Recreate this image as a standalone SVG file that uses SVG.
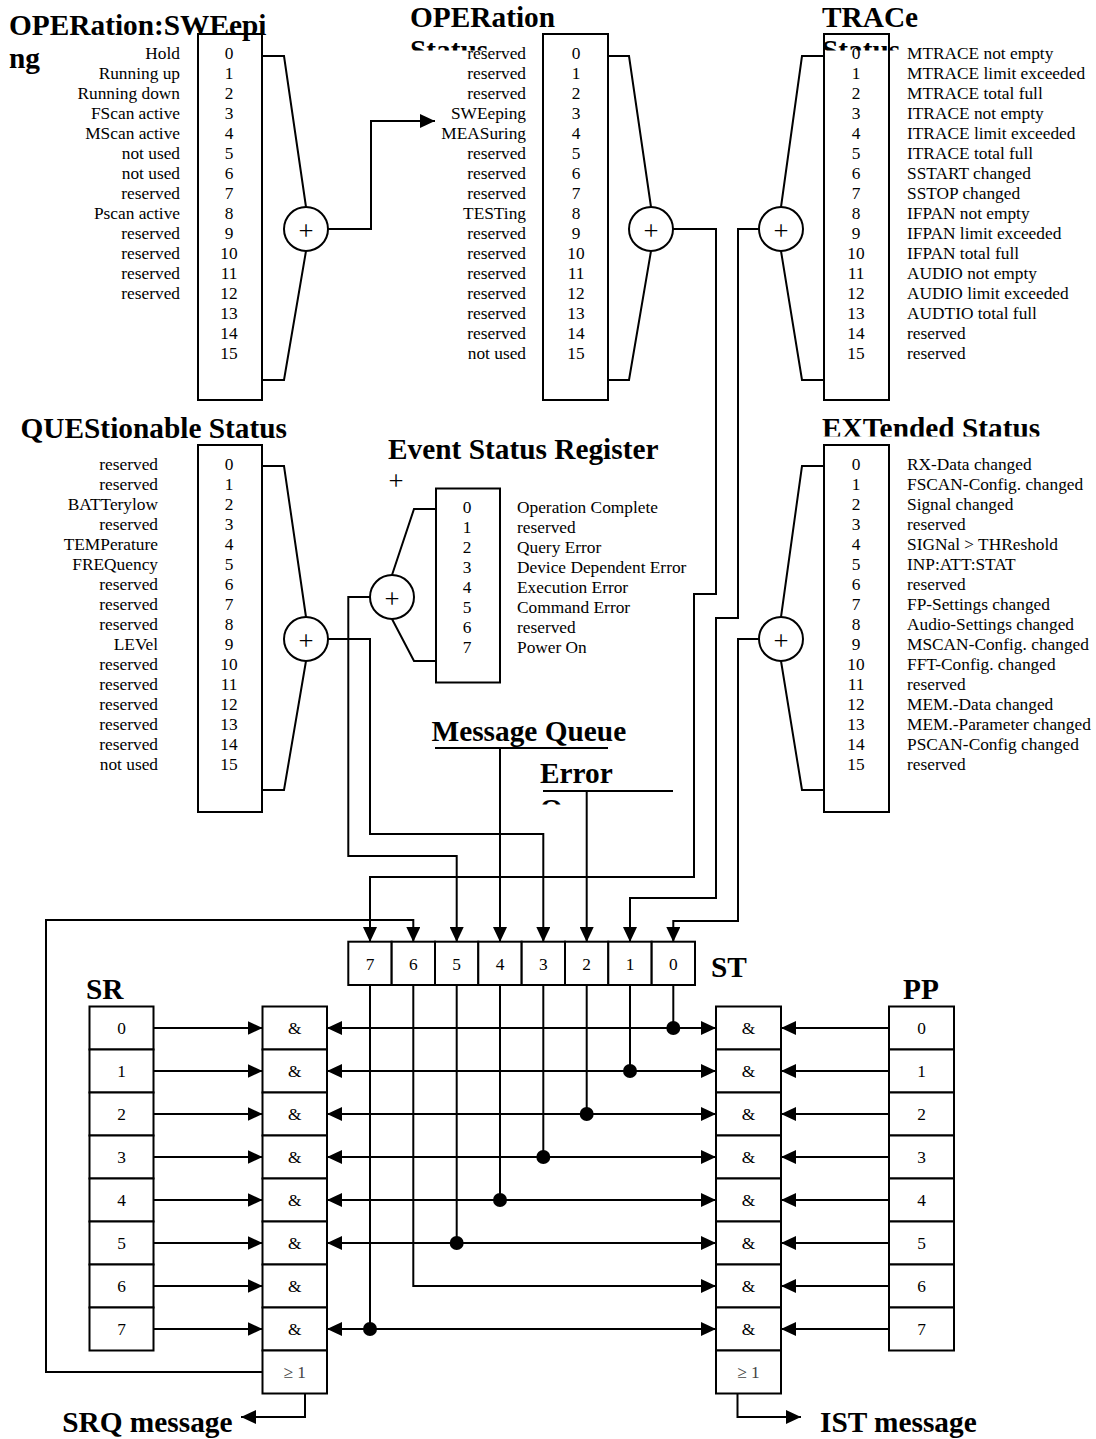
<svg xmlns="http://www.w3.org/2000/svg" width="1096" height="1439" viewBox="0 0 1096 1439">
<style>
.t{font-family:"Liberation Serif","Times New Roman",serif;font-size:17.33px;fill:#000}
.h{font-family:"Liberation Serif","Times New Roman",serif;font-size:29.33px;font-weight:bold;fill:#000}
.p{font-family:"Liberation Serif","Times New Roman",serif;font-size:26.67px;fill:#000;text-anchor:middle}
.r{text-anchor:end}
.m{text-anchor:middle}
.box{fill:#fff;stroke:#000;stroke-width:2}
.ln{fill:none;stroke:#000;stroke-width:2}
.ar{marker-end:url(#ah)}
.ar2{marker-start:url(#ah);marker-end:url(#ah)}
.dot{fill:#000}
.ge{fill:#444}
</style>
<defs>
<marker id="ah" markerUnits="userSpaceOnUse" markerWidth="15" markerHeight="14" refX="15" refY="7" orient="auto-start-reverse" viewBox="0 0 15 14"><path d="M0,0 L15,7 L0,14 z" fill="#000"/></marker>
<clipPath id="clipOper"><rect x="380" y="0" width="200" height="50.5"/></clipPath>
<clipPath id="clipTrace"><rect x="800" y="0" width="200" height="50.5"/></clipPath>
<clipPath id="clipErr"><rect x="520" y="740" width="170" height="64.5"/></clipPath>
<clipPath id="clipExt"><rect x="800" y="400" width="296" height="36.5"/></clipPath>
</defs>
<rect width="1096" height="1439" fill="#fff"/>

<g id="connectors">
<polyline class="ln" points="262,56 284,56 306,207"/>
<polyline class="ln" points="306,251 284,380 262,380"/>
<polyline class="ln" points="608,56 629,56 651,207"/>
<polyline class="ln" points="651,251 629,380 608,380"/>
<polyline class="ln" points="824,56 802,56 781,207"/>
<polyline class="ln" points="781,251 802,380 824,380"/>
<polyline class="ln" points="262,466 284,466 306,617"/>
<polyline class="ln" points="306,661 284,790 262,790"/>
<polyline class="ln" points="824,466 802,466 781,617"/>
<polyline class="ln" points="781,661 802,790 824,790"/>
<polyline class="ln" points="436,509 414,509 392,575"/>
<polyline class="ln" points="392,619 414,661 436,661"/>
<polyline class="ln ar" points="328,229 371,229 371,121 435,121"/>
<polyline class="ln ar" points="673,229 716,229 716,594 694,594 694,877 370,877 370,942"/>
<polyline class="ln ar" points="759,229 738,229 738,618 716,618 716,898 630,898 630,942"/>
<polyline class="ln ar" points="759,639 738,639 738,921 673.3,921 673.3,942"/>
<polyline class="ln ar" points="328,639 370,639 370,834 543.3,834 543.3,942"/>
<polyline class="ln ar" points="370,597 348.3,597 348.3,856 456.7,856 456.7,942"/>
<polyline class="ln ar" points="500,748 500,942"/>
<polyline class="ln ar" points="586.7,791 586.7,942"/>
<polyline class="ln ar" points="262.5,1372 46,1372 46,920 413.3,920 413.3,942"/>
<line class="ln" x1="673.3" y1="985" x2="673.3" y2="1028"/>
<line class="ln" x1="630" y1="985" x2="630" y2="1071"/>
<line class="ln" x1="586.7" y1="985" x2="586.7" y2="1114"/>
<line class="ln" x1="543.3" y1="985" x2="543.3" y2="1157"/>
<line class="ln" x1="500" y1="985" x2="500" y2="1200"/>
<line class="ln" x1="456.7" y1="985" x2="456.7" y2="1243"/>
<polyline class="ln ar" points="413.3,985 413.3,1286 716,1286"/>
<line class="ln" x1="370" y1="985" x2="370" y2="1329"/>
<line class="ln ar2" x1="327" y1="1028" x2="716" y2="1028"/>
<line class="ln ar2" x1="327" y1="1071" x2="716" y2="1071"/>
<line class="ln ar2" x1="327" y1="1114" x2="716" y2="1114"/>
<line class="ln ar2" x1="327" y1="1157" x2="716" y2="1157"/>
<line class="ln ar2" x1="327" y1="1200" x2="716" y2="1200"/>
<line class="ln ar2" x1="327" y1="1243" x2="716" y2="1243"/>
<line class="ln ar2" x1="327" y1="1329" x2="716" y2="1329"/>
<circle class="dot" cx="673.3" cy="1028" r="7"/>
<circle class="dot" cx="630" cy="1071" r="7"/>
<circle class="dot" cx="586.7" cy="1114" r="7"/>
<circle class="dot" cx="543.3" cy="1157" r="7"/>
<circle class="dot" cx="500" cy="1200" r="7"/>
<circle class="dot" cx="456.7" cy="1243" r="7"/>
<circle class="dot" cx="370" cy="1329" r="7"/>
<line class="ln ar" x1="153.5" y1="1028" x2="262.5" y2="1028"/>
<line class="ln ar" x1="153.5" y1="1071" x2="262.5" y2="1071"/>
<line class="ln ar" x1="153.5" y1="1114" x2="262.5" y2="1114"/>
<line class="ln ar" x1="153.5" y1="1157" x2="262.5" y2="1157"/>
<line class="ln ar" x1="153.5" y1="1200" x2="262.5" y2="1200"/>
<line class="ln ar" x1="153.5" y1="1243" x2="262.5" y2="1243"/>
<line class="ln ar" x1="153.5" y1="1286" x2="262.5" y2="1286"/>
<line class="ln ar" x1="153.5" y1="1329" x2="262.5" y2="1329"/>
<line class="ln ar" x1="889" y1="1028" x2="781" y2="1028"/>
<line class="ln ar" x1="889" y1="1071" x2="781" y2="1071"/>
<line class="ln ar" x1="889" y1="1114" x2="781" y2="1114"/>
<line class="ln ar" x1="889" y1="1157" x2="781" y2="1157"/>
<line class="ln ar" x1="889" y1="1200" x2="781" y2="1200"/>
<line class="ln ar" x1="889" y1="1243" x2="781" y2="1243"/>
<line class="ln ar" x1="889" y1="1286" x2="781" y2="1286"/>
<line class="ln ar" x1="889" y1="1329" x2="781" y2="1329"/>
<polyline class="ln ar" points="305,1393.5 305,1417 241,1417"/>
<polyline class="ln ar" points="737.5,1393.5 737.5,1417 801,1417"/>
</g>

<g id="sum-sweep"><circle class="box" cx="306" cy="229" r="22"/><text class="p" x="306" y="240">+</text></g>
<g id="sum-oper"><circle class="box" cx="651" cy="229" r="22"/><text class="p" x="651" y="240">+</text></g>
<g id="sum-trace"><circle class="box" cx="781" cy="229" r="22"/><text class="p" x="781" y="240">+</text></g>
<g id="sum-ques"><circle class="box" cx="306" cy="639" r="22"/><text class="p" x="306" y="650">+</text></g>
<g id="sum-ext"><circle class="box" cx="781" cy="639" r="22"/><text class="p" x="781" y="650">+</text></g>
<g id="sum-esr"><circle class="box" cx="392" cy="597" r="22"/><text class="p" x="392" y="608">+</text></g>

<g id="reg-sweeping">
<rect class="box" x="198" y="34" width="64" height="366"/>
<text class="t r"><tspan x="180" y="59">Hold</tspan><tspan x="180" y="79">Running up</tspan><tspan x="180" y="99">Running down</tspan><tspan x="180" y="119">FScan active</tspan><tspan x="180" y="139">MScan active</tspan><tspan x="180" y="159">not used</tspan><tspan x="180" y="179">not used</tspan><tspan x="180" y="199">reserved</tspan><tspan x="180" y="219">Pscan active</tspan><tspan x="180" y="239">reserved</tspan><tspan x="180" y="259">reserved</tspan><tspan x="180" y="279">reserved</tspan><tspan x="180" y="299">reserved</tspan></text>
<text class="t m"><tspan x="229" y="59">0</tspan><tspan x="229" y="79">1</tspan><tspan x="229" y="99">2</tspan><tspan x="229" y="119">3</tspan><tspan x="229" y="139">4</tspan><tspan x="229" y="159">5</tspan><tspan x="229" y="179">6</tspan><tspan x="229" y="199">7</tspan><tspan x="229" y="219">8</tspan><tspan x="229" y="239">9</tspan><tspan x="229" y="259">10</tspan><tspan x="229" y="279">11</tspan><tspan x="229" y="299">12</tspan><tspan x="229" y="319">13</tspan><tspan x="229" y="339">14</tspan><tspan x="229" y="359">15</tspan></text>
<text class="h" x="9" y="35">OPERation:SWEepi</text>
<text class="h" x="9" y="68">ng</text>
</g>

<g id="reg-operation">
<rect class="box" x="543" y="34" width="65" height="366"/>
<text class="t r"><tspan x="526" y="59">reserved</tspan><tspan x="526" y="79">reserved</tspan><tspan x="526" y="99">reserved</tspan><tspan x="526" y="119">SWEeping</tspan><tspan x="526" y="139">MEASuring</tspan><tspan x="526" y="159">reserved</tspan><tspan x="526" y="179">reserved</tspan><tspan x="526" y="199">reserved</tspan><tspan x="526" y="219">TESTing</tspan><tspan x="526" y="239">reserved</tspan><tspan x="526" y="259">reserved</tspan><tspan x="526" y="279">reserved</tspan><tspan x="526" y="299">reserved</tspan><tspan x="526" y="319">reserved</tspan><tspan x="526" y="339">reserved</tspan><tspan x="526" y="359">not used</tspan></text>
<text class="t m"><tspan x="576" y="59">0</tspan><tspan x="576" y="79">1</tspan><tspan x="576" y="99">2</tspan><tspan x="576" y="119">3</tspan><tspan x="576" y="139">4</tspan><tspan x="576" y="159">5</tspan><tspan x="576" y="179">6</tspan><tspan x="576" y="199">7</tspan><tspan x="576" y="219">8</tspan><tspan x="576" y="239">9</tspan><tspan x="576" y="259">10</tspan><tspan x="576" y="279">11</tspan><tspan x="576" y="299">12</tspan><tspan x="576" y="319">13</tspan><tspan x="576" y="339">14</tspan><tspan x="576" y="359">15</tspan></text>
<text class="h" x="410" y="27">OPERation</text>
<text class="h" x="410" y="60" clip-path="url(#clipOper)">Status</text>
</g>

<g id="reg-trace">
<rect class="box" x="824" y="34" width="65" height="366"/>
<text class="t m"><tspan x="856" y="59">0</tspan><tspan x="856" y="79">1</tspan><tspan x="856" y="99">2</tspan><tspan x="856" y="119">3</tspan><tspan x="856" y="139">4</tspan><tspan x="856" y="159">5</tspan><tspan x="856" y="179">6</tspan><tspan x="856" y="199">7</tspan><tspan x="856" y="219">8</tspan><tspan x="856" y="239">9</tspan><tspan x="856" y="259">10</tspan><tspan x="856" y="279">11</tspan><tspan x="856" y="299">12</tspan><tspan x="856" y="319">13</tspan><tspan x="856" y="339">14</tspan><tspan x="856" y="359">15</tspan></text>
<text class="t"><tspan x="907" y="59">MTRACE not empty</tspan><tspan x="907" y="79">MTRACE limit exceeded</tspan><tspan x="907" y="99">MTRACE total full</tspan><tspan x="907" y="119">ITRACE not empty</tspan><tspan x="907" y="139">ITRACE limit exceeded</tspan><tspan x="907" y="159">ITRACE total full</tspan><tspan x="907" y="179">SSTART changed</tspan><tspan x="907" y="199">SSTOP changed</tspan><tspan x="907" y="219">IFPAN not empty</tspan><tspan x="907" y="239">IFPAN limit exceeded</tspan><tspan x="907" y="259">IFPAN total full</tspan><tspan x="907" y="279">AUDIO not empty</tspan><tspan x="907" y="299">AUDIO limit exceeded</tspan><tspan x="907" y="319">AUDTIO total full</tspan><tspan x="907" y="339">reserved</tspan><tspan x="907" y="359">reserved</tspan></text>
<text class="h" x="822" y="27">TRACe</text>
<text class="h" x="822" y="60" clip-path="url(#clipTrace)">Status</text>
</g>

<g id="reg-questionable">
<rect class="box" x="198" y="445" width="64" height="367"/>
<text class="t r"><tspan x="158" y="469.5">reserved</tspan><tspan x="158" y="489.5">reserved</tspan><tspan x="158" y="509.5">BATTerylow</tspan><tspan x="158" y="529.5">reserved</tspan><tspan x="158" y="549.5">TEMPerature</tspan><tspan x="158" y="569.5">FREQuency</tspan><tspan x="158" y="589.5">reserved</tspan><tspan x="158" y="609.5">reserved</tspan><tspan x="158" y="629.5">reserved</tspan><tspan x="158" y="649.5">LEVel</tspan><tspan x="158" y="669.5">reserved</tspan><tspan x="158" y="689.5">reserved</tspan><tspan x="158" y="709.5">reserved</tspan><tspan x="158" y="729.5">reserved</tspan><tspan x="158" y="749.5">reserved</tspan><tspan x="158" y="769.5">not used</tspan></text>
<text class="t m"><tspan x="229" y="469.5">0</tspan><tspan x="229" y="489.5">1</tspan><tspan x="229" y="509.5">2</tspan><tspan x="229" y="529.5">3</tspan><tspan x="229" y="549.5">4</tspan><tspan x="229" y="569.5">5</tspan><tspan x="229" y="589.5">6</tspan><tspan x="229" y="609.5">7</tspan><tspan x="229" y="629.5">8</tspan><tspan x="229" y="649.5">9</tspan><tspan x="229" y="669.5">10</tspan><tspan x="229" y="689.5">11</tspan><tspan x="229" y="709.5">12</tspan><tspan x="229" y="729.5">13</tspan><tspan x="229" y="749.5">14</tspan><tspan x="229" y="769.5">15</tspan></text>
<text class="h" x="20.5" y="438">QUEStionable Status</text>
</g>

<g id="reg-extended">
<rect class="box" x="824" y="445" width="65" height="367"/>
<text class="t m"><tspan x="856" y="469.5">0</tspan><tspan x="856" y="489.5">1</tspan><tspan x="856" y="509.5">2</tspan><tspan x="856" y="529.5">3</tspan><tspan x="856" y="549.5">4</tspan><tspan x="856" y="569.5">5</tspan><tspan x="856" y="589.5">6</tspan><tspan x="856" y="609.5">7</tspan><tspan x="856" y="629.5">8</tspan><tspan x="856" y="649.5">9</tspan><tspan x="856" y="669.5">10</tspan><tspan x="856" y="689.5">11</tspan><tspan x="856" y="709.5">12</tspan><tspan x="856" y="729.5">13</tspan><tspan x="856" y="749.5">14</tspan><tspan x="856" y="769.5">15</tspan></text>
<text class="t"><tspan x="907" y="469.5">RX-Data changed</tspan><tspan x="907" y="489.5">FSCAN-Config. changed</tspan><tspan x="907" y="509.5">Signal changed</tspan><tspan x="907" y="529.5">reserved</tspan><tspan x="907" y="549.5">SIGNal &gt; THReshold</tspan><tspan x="907" y="569.5">INP:ATT:STAT</tspan><tspan x="907" y="589.5">reserved</tspan><tspan x="907" y="609.5">FP-Settings changed</tspan><tspan x="907" y="629.5">Audio-Settings changed</tspan><tspan x="907" y="649.5">MSCAN-Config. changed</tspan><tspan x="907" y="669.5">FFT-Config. changed</tspan><tspan x="907" y="689.5">reserved</tspan><tspan x="907" y="709.5">MEM.-Data changed</tspan><tspan x="907" y="729.5">MEM.-Parameter changed</tspan><tspan x="907" y="749.5">PSCAN-Config changed</tspan><tspan x="907" y="769.5">reserved</tspan></text>
<text class="h" x="822" y="438" clip-path="url(#clipExt)">EXTended Status</text>
</g>

<g id="reg-esr">
<rect class="box" x="436" y="488.5" width="64" height="194"/>
<text class="t m"><tspan x="467" y="513">0</tspan><tspan x="467" y="533">1</tspan><tspan x="467" y="553">2</tspan><tspan x="467" y="573">3</tspan><tspan x="467" y="593">4</tspan><tspan x="467" y="613">5</tspan><tspan x="467" y="633">6</tspan><tspan x="467" y="653">7</tspan></text>
<text class="t"><tspan x="517" y="513">Operation Complete</tspan><tspan x="517" y="533">reserved</tspan><tspan x="517" y="553">Query Error</tspan><tspan x="517" y="573">Device Dependent Error</tspan><tspan x="517" y="593">Execution Error</tspan><tspan x="517" y="613">Command Error</tspan><tspan x="517" y="633">reserved</tspan><tspan x="517" y="653">Power On</tspan></text>
<text class="h" x="388" y="458.5">Event Status Register</text>
<text class="p" x="396" y="490">+</text>
</g>

<g id="message-queue">
<line class="ln" x1="435" y1="748" x2="608" y2="748"/>
<text class="h" x="431.5" y="740.5">Message Queue</text>
</g>

<g id="error-queue">
<line class="ln" x1="543" y1="791" x2="673" y2="791"/>
<text class="h" x="540" y="783">Error</text>
<text class="h" x="540" y="818.5" clip-path="url(#clipErr)">Queue</text>
</g>

<g id="reg-st">
<rect class="box" x="348.3" y="941.7" width="43.3" height="43.3"/>
<rect class="box" x="391.7" y="941.7" width="43.3" height="43.3"/>
<rect class="box" x="435" y="941.7" width="43.3" height="43.3"/>
<rect class="box" x="478.3" y="941.7" width="43.3" height="43.3"/>
<rect class="box" x="521.7" y="941.7" width="43.3" height="43.3"/>
<rect class="box" x="565" y="941.7" width="43.3" height="43.3"/>
<rect class="box" x="608.3" y="941.7" width="43.3" height="43.3"/>
<rect class="box" x="651.7" y="941.7" width="43.3" height="43.3"/>
<text class="t m"><tspan x="370" y="969.5">7</tspan><tspan x="413.3" y="969.5">6</tspan><tspan x="456.7" y="969.5">5</tspan><tspan x="500" y="969.5">4</tspan><tspan x="543.3" y="969.5">3</tspan><tspan x="586.7" y="969.5">2</tspan><tspan x="630" y="969.5">1</tspan><tspan x="673.3" y="969.5">0</tspan></text>
<text class="h" x="711" y="977">ST</text>
</g>

<g id="reg-sr">
<rect class="box" x="89.5" y="1006.5" width="64" height="43"/>
<rect class="box" x="89.5" y="1049.5" width="64" height="43"/>
<rect class="box" x="89.5" y="1092.5" width="64" height="43"/>
<rect class="box" x="89.5" y="1135.5" width="64" height="43"/>
<rect class="box" x="89.5" y="1178.5" width="64" height="43"/>
<rect class="box" x="89.5" y="1221.5" width="64" height="43"/>
<rect class="box" x="89.5" y="1264.5" width="64" height="43"/>
<rect class="box" x="89.5" y="1307.5" width="64" height="43"/>
<text class="t m"><tspan x="121.5" y="1034">0</tspan><tspan x="121.5" y="1077">1</tspan><tspan x="121.5" y="1120">2</tspan><tspan x="121.5" y="1163">3</tspan><tspan x="121.5" y="1206">4</tspan><tspan x="121.5" y="1249">5</tspan><tspan x="121.5" y="1292">6</tspan><tspan x="121.5" y="1335">7</tspan></text>
<text class="h" x="86" y="999">SR</text>
</g>

<g id="and-left">
<rect class="box" x="262.5" y="1006.5" width="64.5" height="43"/>
<rect class="box" x="262.5" y="1049.5" width="64.5" height="43"/>
<rect class="box" x="262.5" y="1092.5" width="64.5" height="43"/>
<rect class="box" x="262.5" y="1135.5" width="64.5" height="43"/>
<rect class="box" x="262.5" y="1178.5" width="64.5" height="43"/>
<rect class="box" x="262.5" y="1221.5" width="64.5" height="43"/>
<rect class="box" x="262.5" y="1264.5" width="64.5" height="43"/>
<rect class="box" x="262.5" y="1307.5" width="64.5" height="43"/>
<rect class="box" x="262.5" y="1350.5" width="64.5" height="43"/>
<text class="t m"><tspan x="294.7" y="1034">&amp;</tspan><tspan x="294.7" y="1077">&amp;</tspan><tspan x="294.7" y="1120">&amp;</tspan><tspan x="294.7" y="1163">&amp;</tspan><tspan x="294.7" y="1206">&amp;</tspan><tspan x="294.7" y="1249">&amp;</tspan><tspan x="294.7" y="1292">&amp;</tspan><tspan x="294.7" y="1335">&amp;</tspan></text>
<text class="t m ge" x="294.7" y="1378">≥ 1</text>
<text class="h r" x="232.5" y="1432">SRQ message</text>
</g>

<g id="and-right">
<rect class="box" x="716" y="1006.5" width="65" height="43"/>
<rect class="box" x="716" y="1049.5" width="65" height="43"/>
<rect class="box" x="716" y="1092.5" width="65" height="43"/>
<rect class="box" x="716" y="1135.5" width="65" height="43"/>
<rect class="box" x="716" y="1178.5" width="65" height="43"/>
<rect class="box" x="716" y="1221.5" width="65" height="43"/>
<rect class="box" x="716" y="1264.5" width="65" height="43"/>
<rect class="box" x="716" y="1307.5" width="65" height="43"/>
<rect class="box" x="716" y="1350.5" width="65" height="43"/>
<text class="t m"><tspan x="748.5" y="1034">&amp;</tspan><tspan x="748.5" y="1077">&amp;</tspan><tspan x="748.5" y="1120">&amp;</tspan><tspan x="748.5" y="1163">&amp;</tspan><tspan x="748.5" y="1206">&amp;</tspan><tspan x="748.5" y="1249">&amp;</tspan><tspan x="748.5" y="1292">&amp;</tspan><tspan x="748.5" y="1335">&amp;</tspan></text>
<text class="t m ge" x="748.5" y="1378">≥ 1</text>
<text class="h" x="820" y="1432">IST message</text>
</g>

<g id="reg-pp">
<rect class="box" x="889" y="1006.5" width="65" height="43"/>
<rect class="box" x="889" y="1049.5" width="65" height="43"/>
<rect class="box" x="889" y="1092.5" width="65" height="43"/>
<rect class="box" x="889" y="1135.5" width="65" height="43"/>
<rect class="box" x="889" y="1178.5" width="65" height="43"/>
<rect class="box" x="889" y="1221.5" width="65" height="43"/>
<rect class="box" x="889" y="1264.5" width="65" height="43"/>
<rect class="box" x="889" y="1307.5" width="65" height="43"/>
<text class="t m"><tspan x="921.5" y="1034">0</tspan><tspan x="921.5" y="1077">1</tspan><tspan x="921.5" y="1120">2</tspan><tspan x="921.5" y="1163">3</tspan><tspan x="921.5" y="1206">4</tspan><tspan x="921.5" y="1249">5</tspan><tspan x="921.5" y="1292">6</tspan><tspan x="921.5" y="1335">7</tspan></text>
<text class="h m" x="921" y="999">PP</text>
</g>
</svg>
